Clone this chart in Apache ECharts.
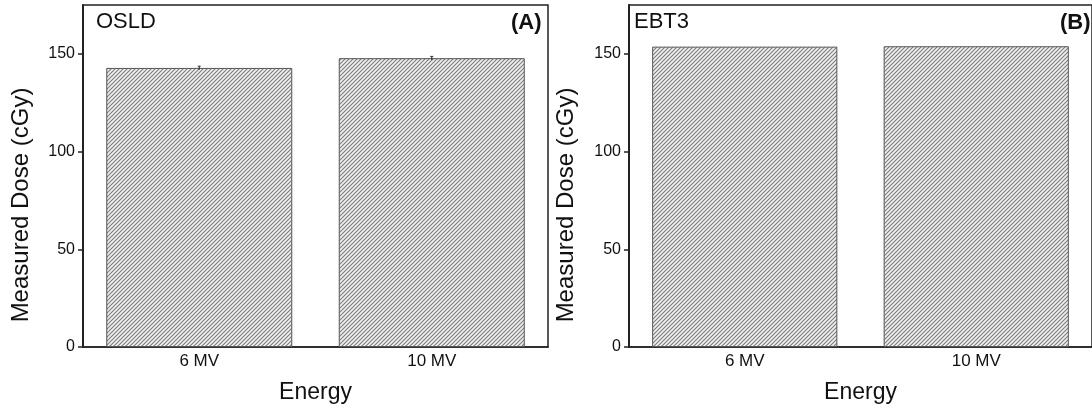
<!DOCTYPE html>
<html><head><meta charset="utf-8">
<script src="https://cdn.jsdelivr.net/npm/echarts@6/dist/echarts.min.js"></script>
<style>html,body{margin:0;padding:0;background:#fff}#c{width:1092px;height:410px}</style>
</head><body><div id="c"></div>
<script>
var categories = ['6 MV', '10 MV'];
var osldValues = [142.8, 147.8];
var osldErrors = [0.9, 0.9];
var ebt3Values = [153.7, 153.9];
var yTicks = [0, 50, 100, 150];
var panelLabels = ['OSLD', 'EBT3'];
var panelTags = ['(A)', '(B)'];
var xTitle = 'Energy';
var yTitle = 'Measured Dose (cGy)';

function hatch() {
  var c = document.createElement('canvas');
  c.width = 4; c.height = 4;
  var g = c.getContext('2d');
  g.fillStyle = '#f2f2f2'; g.fillRect(0, 0, 4, 4);
  g.strokeStyle = '#808080'; g.lineWidth = 1.2;
  [[-1,1,1,-1],[-1,5,5,-1],[3,5,5,3]].forEach(function(s){
    g.beginPath(); g.moveTo(s[0], s[1]); g.lineTo(s[2], s[3]); g.stroke();
  });
  return c;
}
var pat = {image: hatch(), repeat: 'repeat'};
var FONT = '"Liberation Sans", Arial, sans-serif';

var grids = [
  {left: 83, width: 465, top: 5, bottom: 63, show: true, borderColor: '#222', borderWidth: 1.5, backgroundColor: 'transparent'},
  {left: 629, width: 468, top: 5, bottom: 63, show: true, borderColor: '#222', borderWidth: 1.5, backgroundColor: 'transparent'}
];

function xAx(i) {
  return {
    type: 'category', gridIndex: i, data: categories,
    name: xTitle, nameLocation: 'middle', nameGap: 34,
    nameTextStyle: {fontFamily: FONT, fontSize: 23, color: '#111'},
    axisLine: {lineStyle: {color: '#222', width: 1.5}},
    axisTick: {show: true, inside: true, length: 3, alignWithLabel: true, lineStyle: {color: '#333'}},
    axisLabel: {fontFamily: FONT, fontSize: 17, color: '#111', margin: 6}
  };
}
function yAx(i) {
  return {
    type: 'value', gridIndex: i, min: 0, max: 175, interval: 50,
    axisLine: {show: true, lineStyle: {color: '#222', width: 2}},
    axisTick: {show: true, length: 5, customValues: yTicks, lineStyle: {color: '#222', width: 1.5}},
    axisLabel: {fontFamily: FONT, fontSize: 16, color: '#111', margin: 8, customValues: yTicks},
    splitLine: {show: false}
  };
}

function barSeries(i, vals) {
  return {
    type: 'bar', xAxisIndex: i, yAxisIndex: i, data: vals,
    barCategoryGap: '20%',
    itemStyle: {color: pat, borderColor: '#555', borderWidth: 1},
    silent: true, animation: false
  };
}
function errSeries(i, vals, errs) {
  return {
    type: 'custom', xAxisIndex: i, yAxisIndex: i, animation: false, silent: true, z: 5,
    data: vals.map(function(v, k){ return [k, v - errs[k], v + errs[k]]; }),
    renderItem: function(params, api) {
      var lo = api.coord([api.value(0), api.value(1)]);
      var hi = api.coord([api.value(0), api.value(2)]);
      return {type: 'group', children: [
        {type: 'line', shape: {x1: lo[0], y1: lo[1], x2: hi[0], y2: hi[1]}, style: {stroke: '#333', lineWidth: 1.2}},
        {type: 'line', shape: {x1: hi[0]-1.5, y1: hi[1], x2: hi[0]+1.5, y2: hi[1]}, style: {stroke: '#333', lineWidth: 1}}
      ]};
    }
  };
}

function yTitleText(x) {
  return {type: 'text', x: x, y: 205, rotation: Math.PI / 2,
    style: {text: yTitle, font: '24px ' + FONT, fill: '#111', align: 'center', verticalAlign: 'middle'}};
}

var chart = echarts.init(document.getElementById('c'), null, {renderer: 'canvas'});
chart.setOption({
  animation: false,
  backgroundColor: '#fff',
  grid: grids,
  xAxis: [xAx(0), xAx(1)],
  yAxis: [yAx(0), yAx(1)],
  series: [barSeries(0, osldValues), errSeries(0, osldValues, osldErrors),
           barSeries(1, ebt3Values)],
  graphic: [
    yTitleText(21), yTitleText(566),
    {type: 'text', left: 96, top: 11, style: {text: panelLabels[0], font: '22px ' + FONT, fill: '#111'}},
    {type: 'text', left: 634, top: 11, style: {text: panelLabels[1], font: '22px ' + FONT, fill: '#111'}},
    {type: 'text', left: 511, top: 12, style: {text: panelTags[0], font: 'bold 22px ' + FONT, fill: '#111'}},
    {type: 'text', left: 1060, top: 12, style: {text: panelTags[1], font: 'bold 22px ' + FONT, fill: '#111'}}
  ]
});
</script></body></html>
